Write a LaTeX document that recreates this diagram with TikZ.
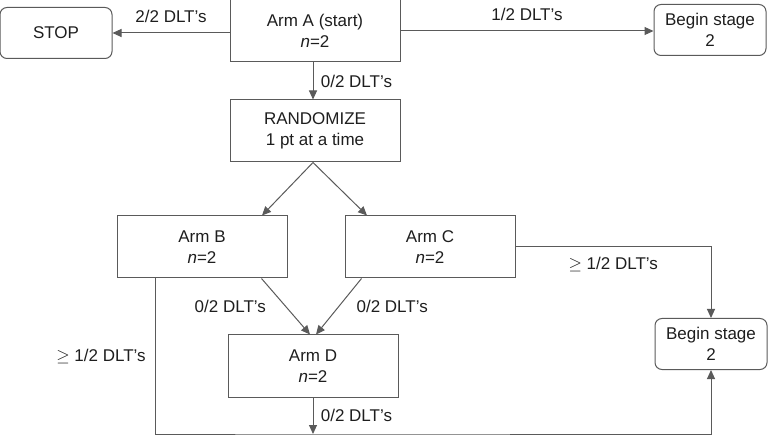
\documentclass[tikz,border=0pt]{standalone}
\usepackage{fontspec}
\setmainfont{Liberation Sans}
\usetikzlibrary{positioning,arrows.meta}

\begin{document}
\begin{tikzpicture}[
        x=1pt, y=-1pt,
        node distance=100pt,
        font=\fontsize{17}{21}\selectfont,
    ]

    \definecolor{linegray}{RGB}{90,90,90}
    \definecolor{textgray}{RGB}{30,30,30}

    \tikzstyle{arm} = [rectangle, minimum width=170pt, minimum height=62pt,
                       text centered, align=center, draw=linegray, line width=1pt,
                       text=textgray];
    \tikzstyle{endbox} = [rectangle, rounded corners=7pt, minimum width=112pt,
                       minimum height=51pt, align=center, draw=linegray,
                       line width=1pt, text=textgray];
    \tikzstyle{flow} = [-{Triangle[length=9pt,width=8pt]}, draw=linegray,
                       line width=1pt];
    \tikzstyle{lbl} = [text=textgray];

    \useasboundingbox (0,0) rectangle (768,435);

    % Nodes
    \node[arm] (arma) at (315,31) {Arm A (start)\\\textit{n}=2};
    \node[arm, below of=arma] (random) {RANDOMIZE\\1 pt at a time};
    \node[arm, below=53pt of random, xshift=-113pt] (armb) {Arm B\\\textit{n}=2};
    \node[arm, below=53pt of random, xshift=115pt] (armc) {Arm C\\\textit{n}=2};
    \node[arm, below=172pt of random, xshift=-2pt] (armd) {Arm D\\\textit{n}=2};
    \node[endbox] (stop) at (56,33) {STOP};
    \node[endbox] (begina) at (710,30) {Begin stage\\2};
    \node[endbox] (beginb) at (711,344) {Begin stage\\2};
    \coordinate (base) at (313,434);

    % Arrows
    \draw[flow] (arma.west |- stop.east) -- (stop.east)
        node[midway, above=6pt, lbl] {2/2 DLT’s};
    \draw[flow] (arma.east) -- (begina.west |- arma.east)
        node[midway, above=6pt, lbl] {1/2 DLT’s};
    \draw[flow] ([xshift=-2pt]arma.south) -- ([xshift=-2pt]random.north)
        node[midway, right=4pt, lbl] {0/2 DLT’s};
    \draw[flow] ([xshift=-2pt]random.south) -- ([xshift=60pt]armb.north);
    \draw[flow] ([xshift=-2pt]random.south) -- ([xshift=-63pt]armc.north);
    \draw[flow] ([xshift=-26pt]armb.south east) -- ([xshift=-3pt]armd.north)
        node[midway, left=16pt, lbl] {0/2 DLT’s};
    \draw[flow] ([xshift=17pt]armc.south west) -- ([xshift=3pt]armd.north)
        node[midway, right=14pt, lbl] {0/2 DLT’s};
    \draw[flow] (armd.south) -- (base)
        node[midway, right=4pt, lbl] {0/2 DLT’s};

    % Stage 2 paths
    \draw[flow] (armc.east) -| (beginb.north)
        node[pos=0.25, below=6pt, lbl] {$\geq$ 1/2 DLT’s};
    \draw[flow] ([xshift=39pt]armb.south west) |- (base)
        node[pos=0.25, left=6pt, lbl] {$\geq$ 1/2 DLT’s}
        -| (beginb.south);

\end{tikzpicture}
\end{document}
